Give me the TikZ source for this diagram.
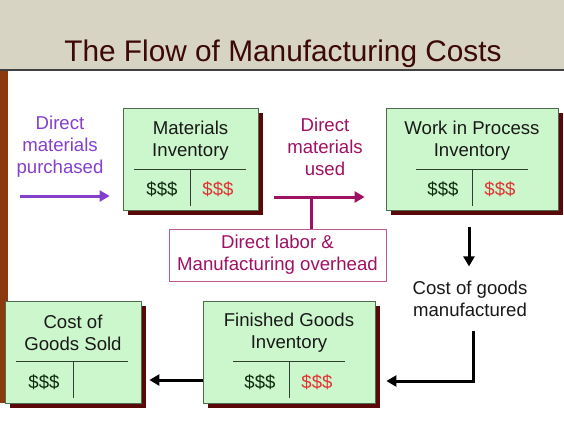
\documentclass[tikz,border=0pt]{standalone}
\usepackage{fontspec}
\setmainfont{Liberation Sans}
\usetikzlibrary{arrows.meta,shadows}
\definecolor{hdr}{HTML}{D7D4C3}
\definecolor{barc}{HTML}{8B3A0E}
\definecolor{ttl}{HTML}{3C0808}
\definecolor{boxg}{HTML}{CCF7CC}
\definecolor{boxline}{HTML}{4F6B4F}
\definecolor{shd}{HTML}{5A0808}
\definecolor{purp}{HTML}{8440CC}
\definecolor{mag}{HTML}{A01064}
\definecolor{dgreen}{HTML}{0F2A0F}
\definecolor{dred}{HTML}{E03333}
\begin{document}
\begin{tikzpicture}[x=1pt,y=-1pt,
  acct/.style={draw=boxline, line width=0.8pt, fill=boxg, minimum width=#1,
    minimum height=102pt, inner sep=0pt,
    drop shadow={shadow xshift=5pt, shadow yshift=-5pt, fill=shd, opacity=1}},
  tline/.style={draw=boxline!60!black, line width=0.8pt},
  lbl/.style={font=\fontsize{18.6}{22}\selectfont, align=center, inner sep=0pt},
  money/.style={font=\fontsize{18.6}{22}\selectfont, inner sep=0pt, anchor=base},
  flow/.style={line width=3pt, -{Triangle[length=10pt,width=11pt]}},
]
\useasboundingbox (0,0) rectangle (564,423);
\fill[white] (0,0) rectangle (564,423);
% header
\fill[hdr] (0,0) rectangle (564,70);
\draw[gray!50!black, line width=1.4pt] (0,70) -- (564,70);
\node[anchor=base, font=\fontsize{29.8}{36}\selectfont, text=ttl, inner sep=0pt] (title) at (283,61) {The Flow of Manufacturing Costs};
% left bar
\fill[barc] (0,71) rectangle (8,403);

% account boxes
\node[acct=135pt] (mi) at (190.5,159) {};
\node[acct=172pt] (wip) at (472,159) {};
\node[acct=136pt] (cgs) at (73,352) {};
\node[acct=172pt] (fg) at (289,352) {};

% T lines
\draw[tline] (134,169) -- (246,169) (190,169) -- (190,206);
\draw[tline] (416,169) -- (528,169) (472,169) -- (472,206);
\draw[tline] (16,361) -- (128,361) (73,361) -- (73,398);
\draw[tline] (233,361) -- (345,361) (289,361) -- (289,398);

% box titles
\node[lbl, text=black!90] (mit) at (190.5,140.5) {Materials\\Inventory};
\node[lbl, text=black!90] (wipt) at (472,140.5) {Work in Process\\Inventory};
\node[lbl, text=black!90] (cgst) at (73,333) {Cost of\\Goods Sold};
\node[lbl, text=black!90] (fgt) at (289,333) {Finished Goods\\Inventory};

% amounts
\node[money, text=dgreen] (m1) at (162,195) {\$\$\$};
\node[money, text=dred] (m2) at (218,195) {\$\$\$};
\node[money, text=dgreen] (m3) at (443,195) {\$\$\$};
\node[money, text=dred] (m4) at (500,195) {\$\$\$};
\node[money, text=dgreen] (m5) at (44,388.5) {\$\$\$};
\node[money, text=dgreen] (m6) at (260,388.5) {\$\$\$};
\node[money, text=dred] (m7) at (317,388.5) {\$\$\$};

% labels
\node[lbl, text=purp] (dmp) at (60,147) {Direct\\materials\\purchased};
\node[lbl, text=mag] (dmu) at (325,147) {Direct\\materials\\used};
\node[lbl, text=black!90] (cgm) at (470,299) {Cost of goods\\manufactured};
\node[lbl, draw=mag!70, line width=0.8pt, fill=white, minimum width=217pt, minimum height=52pt, text=mag] (labor) at (277.5,255) {Direct labor \&\\Manufacturing overhead};

% connectors
\coordinate (pa) at (20,196);
\draw[flow, purp, shorten >=13pt] (pa) -- (pa -| mi.west);
\coordinate (my) at (0,197);
\draw[flow, mag, shorten <=16pt, shorten >=21pt] (mi.east |- my) -- (wip.west |- my);
\coordinate (j) at (311,197);
\draw[mag, line width=3pt] (j) -- (j |- labor.north);
\draw[flow] ([xshift=-3pt,yshift=-17pt]wip.south) -- ([xshift=-3pt,yshift=-56pt]wip.south);
\coordinate (e1) at (473,331);
\coordinate (e2) at (473,381);
\draw[flow, shorten >=11pt] (e1) -- (e2) -- (e2 -| fg.east);
\coordinate (fy) at (0,380);
\draw[flow, shorten >=8pt] (fg.west |- fy) -- (cgs.east |- fy);
\end{tikzpicture}
\end{document}
